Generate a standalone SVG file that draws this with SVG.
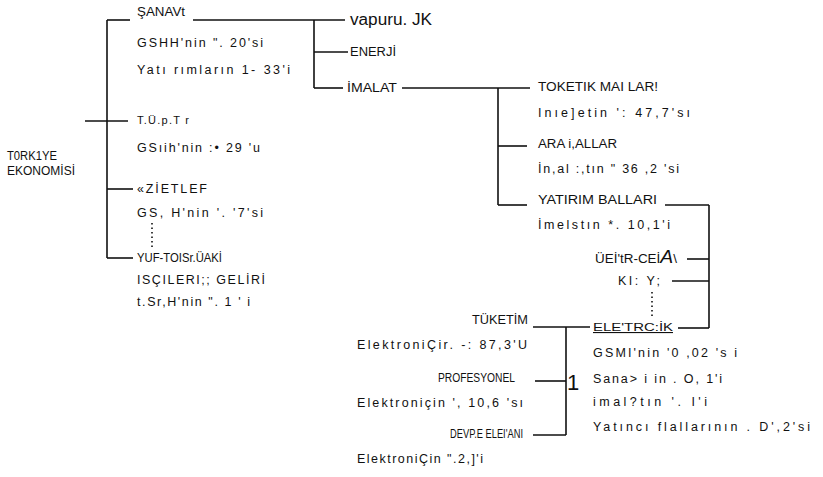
<svg xmlns="http://www.w3.org/2000/svg" width="823" height="477" viewBox="0 0 823 477">
<style>
text{font-family:"Liberation Sans",Arial,sans-serif;fill:#111}
.cap{font-size:12.5px}
.dat{font-size:12.5px}
.sm{font-size:11px}
.cn line{stroke:#111;stroke-width:1.6;fill:none}
.dot{stroke:#555;stroke-width:1.2;stroke-dasharray:1.5 3}
</style>
<rect width="823" height="477" fill="#fff"/>
<g class="cn" id="connectors">
<line x1="107" y1="20" x2="107" y2="258"/>
<line x1="107" y1="20" x2="130" y2="20"/>
<line x1="193" y1="20" x2="345" y2="20"/>
<line x1="85" y1="121" x2="128" y2="121"/>
<line x1="107" y1="189" x2="133" y2="189"/>
<line x1="107" y1="258" x2="133" y2="258"/>
<line x1="314" y1="20" x2="314" y2="88"/>
<line x1="314" y1="52" x2="348" y2="52"/>
<line x1="314" y1="88" x2="343" y2="88"/>
<line x1="402" y1="88" x2="530" y2="88"/>
<line x1="498" y1="88" x2="498" y2="205"/>
<line x1="498" y1="146" x2="527" y2="146"/>
<line x1="498" y1="205" x2="527" y2="205"/>
<line x1="665" y1="205" x2="709" y2="205"/>
<line x1="709" y1="205" x2="709" y2="328"/>
<line x1="687" y1="259" x2="709" y2="259"/>
<line x1="672" y1="281" x2="709" y2="281"/>
<line x1="678" y1="328" x2="709" y2="328"/>
<line x1="533" y1="327" x2="590" y2="327"/>
<line x1="566" y1="327" x2="566" y2="435"/>
<line x1="535" y1="381" x2="566" y2="381"/>
<line x1="533" y1="435" x2="566" y2="435"/>
<line class="dot" x1="152" y1="223" x2="152" y2="248"/>
<line class="dot" x1="652" y1="292" x2="652" y2="316"/>
</g>
<g id="root"><text class="cap" x="7" y="160" textLength="50" lengthAdjust="spacingAndGlyphs">T0RK1YE</text><text class="cap" x="7" y="175" textLength="68" lengthAdjust="spacingAndGlyphs">EKONOMİSİ</text></g>
<g id="sanayi"><text class="cap" x="137" y="16" textLength="48" lengthAdjust="spacingAndGlyphs">ŞANAVt</text><text class="dat" x="137" y="47" textLength="126" lengthAdjust="spacing">GSHH'nin  ".  20'si</text><text class="dat" x="137" y="74" font-size="13" textLength="153" lengthAdjust="spacing">Yatı rımların 1- 33'i</text></g>
<g id="tarim"><text class="sm" x="137" y="124" textLength="52" lengthAdjust="spacing">T.Ü.p.T r</text><text class="dat" x="137" y="152" textLength="123" lengthAdjust="spacing">GSıih'nin  :•  29 'u</text></g>
<g id="hizmetler"><text class="dat" x="137" y="193" textLength="70" lengthAdjust="spacing">«ZİETLEF</text><text class="dat" x="137" y="217" textLength="126" lengthAdjust="spacing">GS, H'nin  '.  '7'si</text></g>
<g id="yurtdisi"><text class="cap" x="137" y="262" textLength="85" lengthAdjust="spacingAndGlyphs">YUF-TOISr.ÜAKİ</text><text class="dat" x="137" y="284" textLength="128" lengthAdjust="spacing">ISÇILERI;;  GELİRİ</text><text class="dat" x="137" y="306" textLength="113" lengthAdjust="spacing">t.Sr,H'nin  ".  1 ' i</text></g>
<g id="vapuru"><text x="350" y="25" font-size="16" textLength="82" lengthAdjust="spacingAndGlyphs">vapuru. JK</text></g>
<g id="enerji"><text class="cap" x="350" y="56" textLength="46" lengthAdjust="spacingAndGlyphs">ENERJİ</text></g>
<g id="imalat"><text class="cap" x="347" y="92" textLength="50" lengthAdjust="spacingAndGlyphs">İMALAT</text></g>
<g id="tuketim-mallari"><text class="cap" x="538" y="91" textLength="120" lengthAdjust="spacingAndGlyphs">TOKETIK  MAI LAR!</text><text class="dat" x="538" y="117" textLength="152" lengthAdjust="spacing">Inıe]etin  ':  47,7'sı</text></g>
<g id="ara-mallar"><text class="cap" x="538" y="148" textLength="79" lengthAdjust="spacingAndGlyphs">ARA  i,ALLAR</text><text class="dat" x="538" y="173" textLength="141" lengthAdjust="spacing">İn,al :,tın  "  36 ,2 'si</text></g>
<g id="yatirim-mallari"><text class="cap" x="538" y="204" textLength="119" lengthAdjust="spacingAndGlyphs">YATIRIM  BALLARI</text><text class="dat" x="538" y="229" textLength="132" lengthAdjust="spacing">İmelstın  *.  10,1'i</text></g>
<g id="otomotiv"><text class="cap" x="595" y="263" textLength="82" lengthAdjust="spacingAndGlyphs">ÜEİ'tR-CEİ<tspan font-size="18" font-style="italic">A</tspan>\</text></g>
<g id="kimya"><text class="cap" x="618" y="285" font-size="13" textLength="42" lengthAdjust="spacing">KI:  Y;</text></g>
<g id="elektronik"><text class="sm" x="593" y="331" textLength="80" lengthAdjust="spacingAndGlyphs" text-decoration="underline">ELE'TRC:İK</text><text class="dat" x="593" y="357" textLength="144" lengthAdjust="spacing">GSMI'nin  '0 ,02 's i</text><text class="dat" x="593" y="383" textLength="129" lengthAdjust="spacing">Sana&gt; i in  .  O, 1'i</text><text class="dat" x="593" y="406" textLength="114" lengthAdjust="spacing">imal?tın  '.  I'i</text><text class="dat" x="593" y="431" textLength="217" lengthAdjust="spacing">Yatıncı flallarının  .  D',2'si</text></g>
<g id="tuketim"><text class="cap" x="472" y="324" textLength="56" lengthAdjust="spacingAndGlyphs">TÜKETİM</text><text class="dat" x="357" y="349" textLength="170" lengthAdjust="spacing">ElektroniÇir.  -:  87,3'U</text></g>
<g id="profesyonel"><text class="cap" x="438" y="382" textLength="77" lengthAdjust="spacingAndGlyphs">PROFESYONEL</text><text class="dat" x="357" y="407" textLength="166" lengthAdjust="spacing">Elektroniçin  ',  10,6 'sı</text></g>
<g id="devre"><text class="cap" x="450" y="438" textLength="73" lengthAdjust="spacingAndGlyphs">DEVP.E  ELEI'ANI</text><text class="dat" x="357" y="463" textLength="126" lengthAdjust="spacing">ElektroniÇin  ".2,]'i</text></g>
<g id="bracket-mark"><text x="567" y="390" font-size="22">1</text></g>
</svg>
